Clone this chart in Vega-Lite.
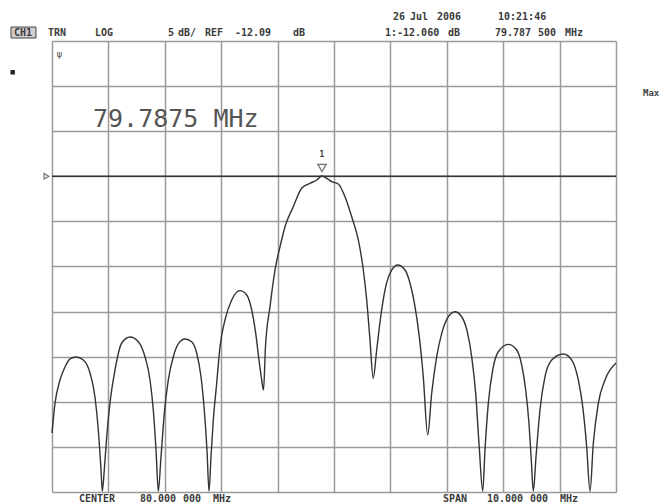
{
  "$schema": "https://vega.github.io/schema/vega-lite/v6.json",
  "width": 564,
  "height": 451,
  "autosize": {"type": "none"},
  "padding": {"left": 52, "top": 41, "right": 49, "bottom": 11},
  "background": "white",
  "config": {"view": {"stroke": null}},
  "encoding": {
    "x": {"field": "f", "type": "quantitative", "title": null,
      "scale": {"domain": [75, 85], "nice": false, "zero": false},
      "axis": {"values": [75, 76, 77, 78, 79, 80, 81, 82, 83, 84, 85], "labels": false, "ticks": false, "domain": false, "grid": true, "gridColor": "#9a9a9a", "gridWidth": 1.5, "gridOpacity": 1}},
    "y": {"field": "db", "type": "quantitative", "title": null,
      "scale": {"domain": [-47.09, 2.91], "nice": false, "zero": false},
      "axis": {"values": [-47.09, -42.09, -37.09, -32.09, -27.09, -22.09, -17.09, -12.09, -7.09, -2.09, 2.91], "labels": false, "ticks": false, "domain": false, "grid": true, "gridColor": "#9a9a9a", "gridWidth": 1.5, "gridOpacity": 1}}
  },
  "layer": [
    {
      "data": {"values": [{"f": 75, "db": -12.09}, {"f": 85, "db": -12.09}]},
      "mark": {"type": "line", "color": "#333333", "strokeWidth": 1.5}
    },
    {
      "data": {"values": [
        {"f": 75.000, "db": -40.55}, {"f": 75.053, "db": -37.26}, {"f": 75.142, "db": -34.67}, {"f": 75.230, "db": -33.23},
        {"f": 75.319, "db": -32.34}, {"f": 75.426, "db": -32.12}, {"f": 75.555, "db": -32.46}, {"f": 75.674, "db": -33.90},
        {"f": 75.762, "db": -36.56}, {"f": 75.821, "db": -40.22}, {"f": 75.869, "db": -44.65}, {"f": 75.892, "db": -47},
        {"f": 75.927, "db": -44.65}, {"f": 75.970, "db": -40.96}, {"f": 76.028, "db": -37.22}, {"f": 76.117, "db": -33.56},
        {"f": 76.236, "db": -30.57}, {"f": 76.383, "db": -29.91}, {"f": 76.530, "db": -30.43}, {"f": 76.649, "db": -32.09},
        {"f": 76.738, "db": -34.67}, {"f": 76.796, "db": -38.0}, {"f": 76.844, "db": -42.43}, {"f": 76.885, "db": -47},
        {"f": 76.933, "db": -43.18}, {"f": 76.991, "db": -38.37}, {"f": 77.062, "db": -34.67}, {"f": 77.151, "db": -32.09},
        {"f": 77.239, "db": -30.68}, {"f": 77.358, "db": -30.13}, {"f": 77.477, "db": -30.43}, {"f": 77.566, "db": -31.71},
        {"f": 77.642, "db": -34.31}, {"f": 77.700, "db": -38.0}, {"f": 77.748, "db": -42.43}, {"f": 77.784, "db": -47},
        {"f": 77.819, "db": -43.18}, {"f": 77.860, "db": -39.11}, {"f": 77.920, "db": -35.04}, {"f": 77.979, "db": -30.98},
        {"f": 78.067, "db": -28.02}, {"f": 78.186, "db": -25.80}, {"f": 78.333, "db": -24.77}, {"f": 78.452, "db": -25.25},
        {"f": 78.541, "db": -26.91}, {"f": 78.612, "db": -29.50}, {"f": 78.670, "db": -32.46}, {"f": 78.718, "db": -34.67},
        {"f": 78.750, "db": -35.78}, {"f": 78.785, "db": -30.98}, {"f": 78.865, "db": -26.55}, {"f": 78.954, "db": -22.48},
        {"f": 79.043, "db": -19.89}, {"f": 79.131, "db": -17.68}, {"f": 79.278, "db": -15.46}, {"f": 79.427, "db": -13.42},
        {"f": 79.574, "db": -12.87}, {"f": 79.693, "db": -12.50}, {"f": 79.7875, "db": -12.06}, {"f": 79.871, "db": -12.31},
        {"f": 79.959, "db": -12.69}, {"f": 80.076, "db": -12.94}, {"f": 80.195, "db": -14.35}, {"f": 80.314, "db": -16.57},
        {"f": 80.431, "db": -19.15}, {"f": 80.520, "db": -22.48}, {"f": 80.580, "db": -25.80}, {"f": 80.638, "db": -30.24},
        {"f": 80.695, "db": -34.48}, {"f": 80.757, "db": -31.35}, {"f": 80.828, "db": -27.66}, {"f": 80.904, "db": -24.70},
        {"f": 80.993, "db": -22.84}, {"f": 81.129, "db": -21.92}, {"f": 81.259, "db": -22.48}, {"f": 81.348, "db": -23.95},
        {"f": 81.436, "db": -26.55}, {"f": 81.512, "db": -29.87}, {"f": 81.583, "db": -34.31}, {"f": 81.661, "db": -40.77},
        {"f": 81.732, "db": -36.15}, {"f": 81.821, "db": -32.09}, {"f": 81.910, "db": -29.50}, {"f": 82.009, "db": -27.83},
        {"f": 82.145, "db": -27.10}, {"f": 82.264, "db": -27.66}, {"f": 82.363, "db": -29.32}, {"f": 82.441, "db": -32.09},
        {"f": 82.512, "db": -36.15}, {"f": 82.571, "db": -41.69}, {"f": 82.637, "db": -47},
        {"f": 82.677, "db": -42.43}, {"f": 82.736, "db": -37.26}, {"f": 82.814, "db": -33.56}, {"f": 82.913, "db": -31.54},
        {"f": 83.090, "db": -30.72}, {"f": 83.239, "db": -31.35}, {"f": 83.328, "db": -33.01}, {"f": 83.399, "db": -35.78},
        {"f": 83.457, "db": -39.47}, {"f": 83.498, "db": -43.54}, {"f": 83.534, "db": -47},
        {"f": 83.582, "db": -43.18}, {"f": 83.652, "db": -38.0}, {"f": 83.741, "db": -34.31}, {"f": 83.860, "db": -32.46},
        {"f": 84.066, "db": -31.79}, {"f": 84.215, "db": -32.46}, {"f": 84.332, "db": -34.67}, {"f": 84.410, "db": -37.63},
        {"f": 84.480, "db": -42.07}, {"f": 84.539, "db": -47},
        {"f": 84.598, "db": -41.69}, {"f": 84.686, "db": -37.26}, {"f": 84.805, "db": -34.67}, {"f": 85.0, "db": -32.8}
      ]},
      "mark": {"type": "line", "color": "#333333", "strokeWidth": 1.4, "interpolate": "monotone"}
    },
    {
      "data": {"values": [{"f": 74.273, "f2": 74.716, "db": 4.46, "db2": 3.24}]},
      "mark": {"type": "rect", "fill": "#cfcfcf", "stroke": "#444444", "strokeWidth": 1},
      "encoding": {"x2": {"field": "f2"}, "y2": {"field": "db2"}}
    },
    {
      "data": {"values": [
        {"f": 74.326, "db": 3.80, "t": "CH1"},
        {"f": 74.929, "db": 3.80, "t": "TRN"},
        {"f": 75.762, "db": 3.80, "t": "LOG"},
        {"f": 77.057, "db": 3.80, "t": "5"},
        {"f": 77.234, "db": 3.80, "t": "dB/"},
        {"f": 77.713, "db": 3.80, "t": "REF"},
        {"f": 78.245, "db": 3.80, "t": "-12.09"},
        {"f": 79.273, "db": 3.80, "t": "dB"},
        {"f": 80.904, "db": 3.80, "t": "1:-12.060"},
        {"f": 82.021, "db": 3.80, "t": "dB"},
        {"f": 82.855, "db": 3.80, "t": "79.787"},
        {"f": 83.617, "db": 3.80, "t": "500"},
        {"f": 84.096, "db": 3.80, "t": "MHz"},
        {"f": 81.046, "db": 5.57, "t": "26"},
        {"f": 81.348, "db": 5.57, "t": "Jul"},
        {"f": 81.826, "db": 5.57, "t": "2006"},
        {"f": 82.908, "db": 5.57, "t": "10:21:46"},
        {"f": 75.479, "db": -47.87, "t": "CENTER"},
        {"f": 76.560, "db": -47.87, "t": "80.000"},
        {"f": 77.323, "db": -47.87, "t": "000"},
        {"f": 77.855, "db": -47.87, "t": "MHz"},
        {"f": 81.933, "db": -47.87, "t": "SPAN"},
        {"f": 82.713, "db": -47.87, "t": "10.000"},
        {"f": 83.475, "db": -47.87, "t": "000"},
        {"f": 84.007, "db": -47.87, "t": "MHz"}
      ]},
      "mark": {"type": "text", "align": "left", "baseline": "middle", "font": "DejaVu Sans Mono", "fontSize": 10, "fontWeight": "bold", "fill": "#3a3a3a"},
      "encoding": {"text": {"field": "t"}}
    },
    {
      "data": {"values": [{"f": 85.479, "db": -2.85, "t": "Max"}]},
      "mark": {"type": "text", "align": "left", "baseline": "middle", "font": "DejaVu Sans Mono", "fontSize": 9, "fontWeight": "bold", "fill": "#444444"},
      "encoding": {"text": {"field": "t"}}
    },
    {
      "data": {"values": [{"f": 75.727, "db": -5.70, "t": "79.7875 MHz"}]},
      "mark": {"type": "text", "align": "left", "baseline": "middle", "font": "DejaVu Sans Mono", "fontSize": 25, "fill": "#555555"},
      "encoding": {"text": {"field": "t"}}
    },
    {
      "data": {"values": [{"f": 79.7875, "db": -9.73, "t": "1"}]},
      "mark": {"type": "text", "align": "center", "baseline": "middle", "font": "DejaVu Sans Mono", "fontSize": 8, "fontWeight": "bold", "fill": "#333333"},
      "encoding": {"text": {"field": "t"}}
    },
    {
      "data": {"values": [{"f": 79.7875, "db": -11.17}]},
      "mark": {"type": "point", "shape": "triangle-down", "size": 70, "filled": false, "stroke": "#333333", "strokeWidth": 1.2}
    },
    {
      "data": {"values": [{"f": 74.902, "db": -12.09}]},
      "mark": {"type": "point", "shape": "triangle-right", "size": 30, "filled": false, "stroke": "#333333", "strokeWidth": 1.2}
    },
    {
      "data": {"values": [{"f": 74.303, "db": -0.56}]},
      "mark": {"type": "point", "shape": "square", "size": 20, "filled": true, "fill": "#222222", "opacity": 1}
    },
    {
      "data": {"values": [{"f": 75.129, "db": 1.36, "t": "ψ"}]},
      "mark": {"type": "text", "align": "center", "baseline": "middle", "font": "DejaVu Sans", "fontSize": 8, "fill": "#444444"},
      "encoding": {"text": {"field": "t"}}
    }
  ]
}
